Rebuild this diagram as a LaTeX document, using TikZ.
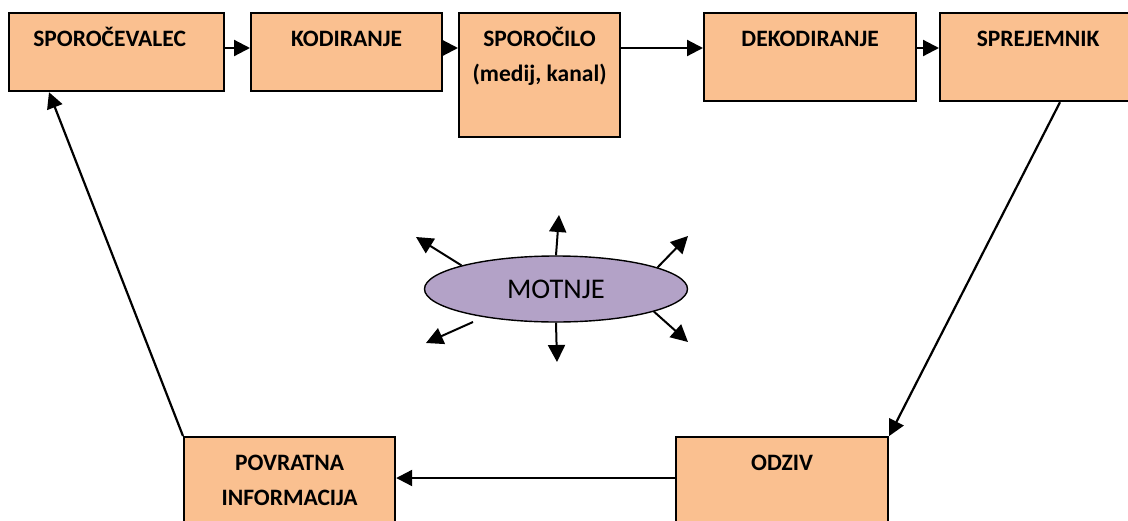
\documentclass[tikz,border=0pt]{standalone}
\usepackage{fontspec}
\setmainfont{Carlito}
\usetikzlibrary{arrows.meta,shapes.geometric,calc}
\definecolor{boxfill}{HTML}{FAC090}
\definecolor{noisefill}{HTML}{B3A2C7}
\begin{document}
\begin{tikzpicture}[x=1pt,y=-1pt,
  stage/.style={draw=black, line width=2.2pt, fill=boxfill, rectangle,
                anchor=north west, inner sep=0pt},
  lbl/.style={font=\fontsize{23.5}{35}\selectfont\bfseries, inner sep=0pt,
              align=center, anchor=base},
  flow/.style={line width=2.2pt, -{Triangle[length=16pt,width=16pt]}},
  burst/.style={line width=2pt, -{Triangle[length=17pt,width=17pt]}},
]
\useasboundingbox (0,0) rectangle (1128,520);
\clip (0,0) rectangle (1128,520);

% communication chain
\node[stage, minimum width=215pt, minimum height=78pt]  (sender)   at (8,12)   {};
\node[stage, minimum width=191pt, minimum height=78pt]  (coder)    at (250,12) {};
\node[stage, minimum width=161pt, minimum height=124pt] (message)  at (458,12) {};
\node[stage, minimum width=212pt, minimum height=88pt]  (decoder)  at (703,12) {};
\node[stage, minimum width=196pt, minimum height=88pt]  (receiver) at (939,12) {};
\node[stage, minimum width=212pt, minimum height=110pt] (response) at (675,436) {};
\node[stage, minimum width=211pt, minimum height=110pt] (feedback) at (183,436) {};

% labels (the base anchor of a two-line label sits on its last line)
\node[lbl] (t-sender)   at ([xshift=-7pt,yshift=-34pt]sender.north) {SPOROČEVALEC};
\node[lbl] (t-coder)    at ([yshift=-34pt]coder.north)    {KODIRANJE};
\node[lbl] (t-message)  at ([yshift=-69pt]message.north)  {SPOROČILO\\(medij, kanal)};
\node[lbl] (t-decoder)  at ([yshift=-34pt]decoder.north)  {DEKODIRANJE};
\node[lbl] (t-receiver) at ([yshift=-34pt]receiver.north) {SPREJEMNIK};
\node[lbl] (t-response) at ([yshift=-34pt]response.north) {ODZIV};
\node[lbl] (t-feedback) at ([yshift=-69pt]feedback.north) {POVRATNA\\INFORMACIJA};

% noise
\node[ellipse, draw=black, line width=1.4pt, fill=noisefill,
      minimum width=263pt, minimum height=66pt, inner sep=0pt,
      font=\fontsize{28.5}{30}\selectfont] (noise) at (556,289) {MOTNJE};

% connectors
\coordinate (row) at (0,48);
\coordinate (low) at (0,478);
\draw[flow] (sender.east |- row)  -- (coder.west |- row);
\draw[flow] (coder.east |- row)   -- (message.west |- row);
\draw[flow] (message.east |- row) -- (decoder.west |- row);
\draw[flow] (decoder.east |- row) -- (receiver.west |- row);
\draw[flow] ([xshift=121pt]receiver.south west) -- (response.north east);
\draw[flow] (response.west |- low) -- (feedback.east |- low);
\draw[flow] (feedback.north west) -- ([xshift=41pt]sender.south west);

% noise spreading outwards
\coordinate (n-up)    at (559,215);
\coordinate (n-ul)    at (416,237);
\coordinate (n-ur)    at (688,236);
\coordinate (n-ll0)   at (473,322);
\coordinate (n-ll)    at (426,343);
\coordinate (n-down)  at (557,362);
\coordinate (n-lr)    at (688,342);
\draw[burst] (noise.north) -- (n-up);
\draw[burst] (noise.166)   -- (n-ul);
\draw[burst] (noise.12)    -- (n-ur);
\draw[burst] (n-ll0)       -- (n-ll);
\draw[burst] (noise.south) -- (n-down);
\draw[burst] (noise.-13)   -- (n-lr);
\end{tikzpicture}
\end{document}
